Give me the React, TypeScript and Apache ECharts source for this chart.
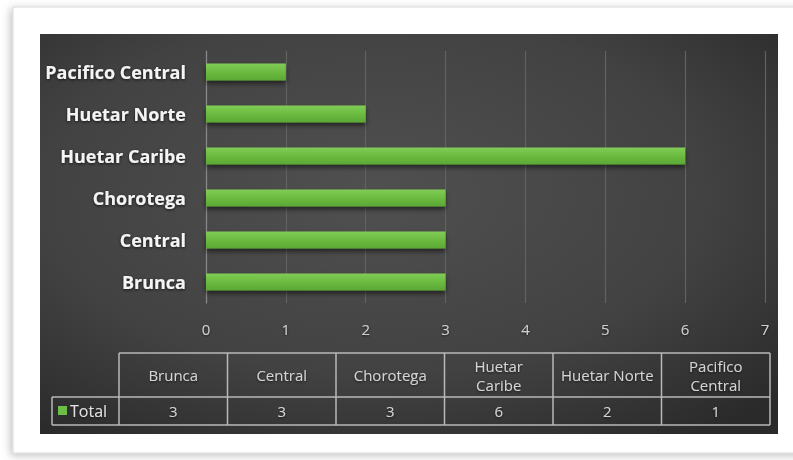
import React, { useEffect, useRef } from "react";
import * as echarts from "echarts";

const categories = ["Brunca", "Central", "Chorotega", "Huetar Caribe", "Huetar Norte", "Pacifico Central"];
const totals = [3, 3, 3, 6, 2, 1];
const tableHeaders = ["Brunca", "Central", "Chorotega", "Huetar\nCaribe", "Huetar Norte", "Pacifico\nCentral"];
const seriesName = "Total";
const xTicks = [0, 1, 2, 3, 4, 5, 6, 7];

export default function App() {
  const ref = useRef<HTMLDivElement>(null);
  useEffect(() => {
    if (!ref.current) return;
    const chart = echarts.init(ref.current, undefined, { renderer: "svg" });

    const font = "'Open Sans', 'DejaVu Sans', sans-serif";
    const tblLeft = 119;
    const tblRight = 770;
    const colW = (tblRight - tblLeft) / categories.length;
    const tTop = 353;
    const tMid = 397;
    const tBot = 425;
    const legLeft = 52;
    const lineStyle = { stroke: "#b9b9b9", lineWidth: 1.5 };
    const txtShadow = { textShadowColor: "rgba(0,0,0,0.6)", textShadowBlur: 2, textShadowOffsetY: 1 };

    const g: any[] = [];
    g.push({
      type: "rect",
      shape: { x: 13, y: 7, width: 800, height: 446 },
      style: { fill: "#ffffff", stroke: "#d8d8d8", lineWidth: 1, shadowBlur: 8, shadowColor: "rgba(0,0,0,0.25)", shadowOffsetX: -2, shadowOffsetY: 2 },
      z: -10,
    });
    g.push({
      type: "rect",
      shape: { x: 40, y: 34, width: 738, height: 400 },
      style: {
        fill: new echarts.graphic.RadialGradient(0.45, 0.4, 0.75, [
          { offset: 0, color: "#505050" },
          { offset: 0.6, color: "#424242" },
          { offset: 1, color: "#2a2a2a" },
        ]),
      },
      z: -9,
    });
    g.push({ type: "line", shape: { x1: tblLeft, y1: tTop, x2: tblRight, y2: tTop }, style: lineStyle });
    g.push({ type: "line", shape: { x1: legLeft, y1: tMid, x2: tblRight, y2: tMid }, style: lineStyle });
    g.push({ type: "line", shape: { x1: legLeft, y1: tBot, x2: tblRight, y2: tBot }, style: lineStyle });
    g.push({ type: "line", shape: { x1: legLeft, y1: tMid, x2: legLeft, y2: tBot }, style: lineStyle });
    for (let i = 0; i <= categories.length; i++) {
      const x = tblLeft + i * colW;
      g.push({ type: "line", shape: { x1: x, y1: tTop, x2: x, y2: tBot }, style: lineStyle });
    }
    categories.forEach((c, i) => {
      const cx = tblLeft + (i + 0.5) * colW;
      g.push({
        type: "text",
        x: cx,
        y: (tTop + tMid) / 2,
        style: { text: tableHeaders[i], fill: "#d4d4d4", font: `15px ${font}`, align: "center", verticalAlign: "middle", lineHeight: 19, ...txtShadow },
      });
      g.push({
        type: "text",
        x: cx,
        y: (tMid + tBot) / 2,
        style: { text: String(totals[i]), fill: "#d4d4d4", font: `15px ${font}`, align: "center", verticalAlign: "middle", ...txtShadow },
      });
    });
    g.push({ type: "rect", shape: { x: 58, y: 406, width: 9, height: 9 }, style: { fill: "#6cbf45" } });
    g.push({
      type: "text",
      x: 70,
      y: (tMid + tBot) / 2,
      style: { text: seriesName, fill: "#e0e0e0", font: `16px ${font}`, align: "left", verticalAlign: "middle", ...txtShadow },
    });

    chart.setOption({
      animation: false,
      backgroundColor: "transparent",
      graphic: g,
      grid: { left: 206, right: 28, top: 51, bottom: 157, containLabel: false },
      xAxis: {
        type: "value",
        min: xTicks[0],
        max: xTicks[xTicks.length - 1],
        interval: 1,
        axisLine: { show: false },
        axisTick: { show: false },
        axisLabel: { color: "#cfcfcf", fontSize: 15, fontFamily: font, margin: 18, ...txtShadow },
        splitLine: { show: true, lineStyle: { color: "#626262", width: 1.2 } },
      },
      yAxis: {
        type: "category",
        data: categories,
        axisLine: { show: true, lineStyle: { color: "#8a8a8a", width: 1.2 } },
        axisTick: { show: false },
        axisLabel: {
          color: "#f4f4f4",
          fontSize: 18,
          fontWeight: "bold",
          fontFamily: font,
          margin: 20,
          textShadowColor: "rgba(0,0,0,0.7)",
          textShadowBlur: 3,
          textShadowOffsetY: 1,
        },
      },
      series: [
        {
          name: seriesName,
          type: "bar",
          data: totals,
          barWidth: "40%",
          itemStyle: {
            color: new echarts.graphic.LinearGradient(0, 0, 0, 1, [
              { offset: 0, color: "#80cc56" },
              { offset: 0.5, color: "#6cbb40" },
              { offset: 1, color: "#5aa834" },
            ]),
            shadowColor: "rgba(0,0,0,0.55)",
            shadowBlur: 5,
            shadowOffsetY: 3,
          },
        },
      ],
    });
    return () => chart.dispose();
  }, []);
  return <div ref={ref} style={{ position: "fixed", left: 0, top: 0, width: 793, height: 460 }} />;
}
